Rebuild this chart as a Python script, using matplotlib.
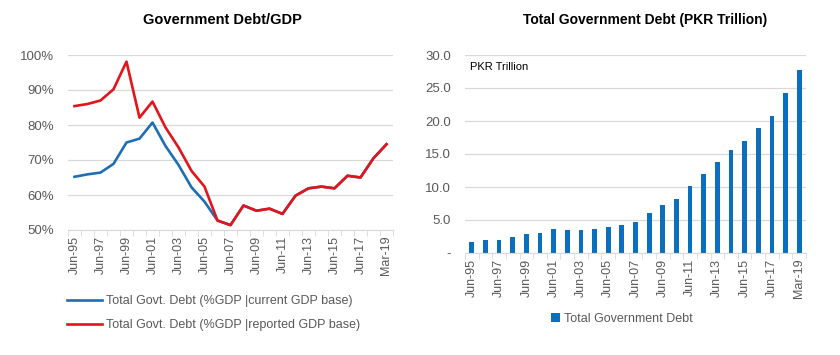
import matplotlib
matplotlib.use("Agg")
import matplotlib.pyplot as plt
import numpy as np

# periods: Jun-95 .. Jun-18 then Mar-19
periods = ["Jun-%02d" % (y % 100) for y in range(1995, 2019)] + ["Mar-19"]

# debt / GDP, %
debt_gdp_current = [65.2, 65.9, 66.4, 68.9, 75.0, 76.1, 80.7, 74.0, 68.6, 62.2, 58.1, 52.7,
                    51.4, 57.0, 55.5, 56.1, 54.6, 59.8, 61.9, 62.4, 61.9, 65.5, 65.0, 70.5, 74.5]
debt_gdp_reported = [85.4, 86.0, 87.0, 90.2, 98.1, 82.1, 86.7, 79.3, 73.6, 66.9, 62.4, 52.7,
                     51.4, 57.0, 55.5, 56.1, 54.6, 59.8, 61.9, 62.4, 61.9, 65.5, 65.0, 70.5, 74.5]

# total govt debt, PKR trillion
total_debt = [1.6, 1.9, 2.0, 2.4, 2.9, 3.1, 3.7, 3.55, 3.55, 3.7, 4.0, 4.3, 4.75, 6.0,
              7.3, 8.2, 10.1, 12.0, 13.8, 15.6, 17.0, 19.0, 20.8, 24.3, 27.8]

blue = "#1f6eb3"
red = "#e3151b"
bar_blue = "#0a6fbd"
grid_c = "#d9d9d9"
txt_c = "#595959"

plt.rcParams['font.family'] = ['Liberation Sans', 'DejaVu Sans']

W, H = 840, 355
fig = plt.figure(figsize=(W / 100, H / 100), dpi=100)
fig.patch.set_facecolor("white")

def px_axes(x0, y0, x1, y1):
    return fig.add_axes([x0 / W, 1 - y1 / H, (x1 - x0) / W, (y1 - y0) / H])

x = np.arange(len(periods))
tick_pos = list(range(0, len(periods), 2))
tick_lab = [periods[i] for i in tick_pos]

def style_axis(ax):
    for s in ["top", "right", "left"]:
        ax.spines[s].set_visible(False)
    ax.spines["bottom"].set_color(grid_c)
    ax.yaxis.grid(True, color=grid_c, linewidth=0.9)
    ax.set_axisbelow(True)
    ax.tick_params(axis="y", length=0, colors=txt_c, labelsize=9.5, pad=10)
    ax.tick_params(axis="x", length=0, colors=txt_c, labelsize=9, pad=4)
    ax.set_xticks(tick_pos)
    ax.set_xticklabels(tick_lab, rotation=90)
    # category boundary ticks like excel
    ax.set_xticks(np.arange(len(periods) + 1) - 0.5, minor=True)
    ax.tick_params(axis="x", which="minor", length=4, color=grid_c)
    ax.set_xlim(-0.5, len(periods) - 0.5)

# left chart
ax1 = px_axes(68, 55, 393, 230)
l1, = ax1.plot(x, debt_gdp_current, color=blue, linewidth=1.9)
l2, = ax1.plot(x, debt_gdp_reported, color=red, linewidth=1.9)
ax1.set_ylim(50, 100)
ax1.set_yticks(range(50, 101, 10))
ax1.set_yticklabels(["%d%%" % v for v in range(50, 101, 10)])
style_axis(ax1)
fig.legend([l1, l2], ["Total Govt. Debt (%GDP |current GDP base)",
                      "Total Govt. Debt (%GDP |reported GDP base)"],
           loc="upper left", bbox_to_anchor=(62 / W, 1 - 290 / H), frameon=False,
           fontsize=9, labelcolor=txt_c, handlelength=2.8, handletextpad=0.3,
           labelspacing=0.95, borderaxespad=0)
fig.text(222 / W, 1 - 20 / H, "Government Debt/GDP", ha="center", va="center",
         fontsize=10.5, fontweight="bold", color="black")

# right chart
ax2 = px_axes(465, 55, 806, 253)
b = ax2.bar(x, total_debt, width=0.35, color=bar_blue)
ax2.set_ylim(0, 30)
ax2.set_yticks(np.arange(0, 31, 5))
ax2.set_yticklabels(["-"] + ["%.1f" % v for v in np.arange(5, 31, 5)])
style_axis(ax2)
ax2.text(0.015, 0.94, "PKR Trillion", transform=ax2.transAxes, fontsize=8,
         color="black", va="center")
fig.legend([b], ["Total Government Debt"], loc="center",
           bbox_to_anchor=(622 / W, 1 - 319 / H), frameon=False, fontsize=9,
           labelcolor=txt_c, handlelength=0.7, handleheight=0.7, handletextpad=0.4,
           borderaxespad=0)
fig.text(645 / W, 1 - 20 / H, "Total Government Debt (PKR Trillion)", ha="center",
         va="center", fontsize=10, fontweight="bold", color="black")

fig.savefig("out.png", dpi=100, facecolor="white")
